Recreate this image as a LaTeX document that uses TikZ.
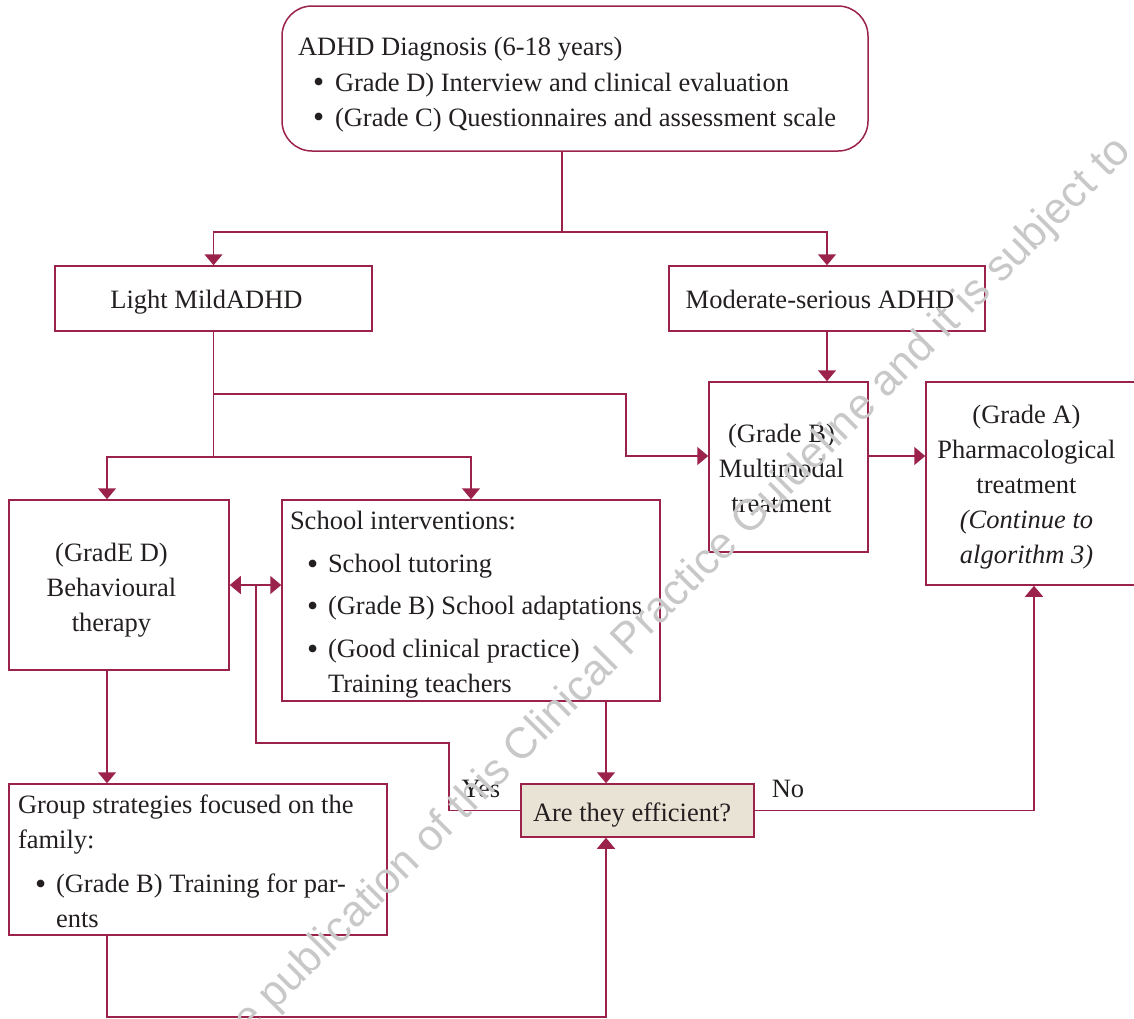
\documentclass[tikz,border=0pt]{standalone}
\usepackage{fontspec}
\usepackage{graphicx}
\setmainfont{Liberation Serif}
\newfontfamily\wmfont{Liberation Sans}
\usetikzlibrary{arrows.meta}
\definecolor{frame}{RGB}{155,35,75}
\definecolor{ink}{RGB}{35,31,32}
\definecolor{qfill}{RGB}{232,227,212}
\definecolor{wm}{RGB}{200,200,200}
\newcommand\bigbul{\raisebox{-1.8pt}{\scalebox{1.2}{\textbullet}}}
\newcommand\mybulA{\hspace*{15pt}\makebox[22pt][l]{\bigbul}}
\newcommand\mybulB{\hspace*{17pt}\makebox[21pt][l]{\bigbul}}
% shift text block: #1 dx, #2 dy (down), #3 content
\newcommand\tsh[3]{\raisebox{-#2pt}[\height][\depth]{\hspace*{#1pt}#3\hspace*{-#1pt}}}
\newcommand\ctab[1]{\begin{tabular}{@{}c@{}}#1\end{tabular}}
\newcommand\ltab[2]{\makebox[#1pt][l]{\begin{tabular}{@{}l@{}}#2\end{tabular}}}
\begin{document}
\begin{tikzpicture}[x=1pt,y=-1pt,
  every node/.style={font=\fontsize{26.5}{35}\selectfont, text=ink},
  box/.style={draw=frame, line width=1.5pt, inner sep=0pt},
  conn/.style={draw=frame, line width=1.5pt},
  arr/.style={conn, -{Triangle[width=18pt,length=11pt]}},
  darr/.style={conn, {Triangle[width=18pt,length=11pt]}-{Triangle[width=18pt,length=11pt]}},
]
\useasboundingbox (0,0) rectangle (1134,1018);
\begin{scope}
\clip (0,0) rectangle (1134,1018);
% boxes
\node[box, rounded corners=30pt, minimum width=586pt, minimum height=145pt] (diag) at (575,78.5)
  {\tsh{0}{5}{\ltab{554}{ADHD Diagnosis (6-18 years)\\[1pt] \mybulA Grade D) Interview and clinical evaluation\\ \mybulA (Grade C) Questionnaires and assessment scale}}};
\node[box, minimum width=317pt, minimum height=65pt] (light) at (213.5,298.5) {\tsh{-7}{2.6}{\ctab{Light MildADHD}}};
\node[box, minimum width=316pt, minimum height=65pt] (mod) at (827,298.5) {\tsh{-7}{2.6}{\ctab{Moderate-serious ADHD}}};
\node[box, minimum width=159pt, minimum height=170pt] (multi) at (788.5,467) {\tsh{-7}{3.2}{\ctab{(Grade B)\\Multimodal\\treatment}}};
\node[box, minimum width=210pt, minimum height=203pt] (pharma) at (1031,483.5)
  {\tsh{-4.5}{2.5}{\ctab{(Grade A)\\Pharmacological\\treatment\\\textit{(Continue to}\\\textit{algorithm 3)}}}};
\node[box, minimum width=220pt, minimum height=170pt] (behav) at (119,585) {\tsh{-7.5}{4.3}{\ctab{(GradE D)\\Behavioural\\therapy}}};
\node[box, minimum width=378pt, minimum height=201pt] (school) at (471,600.5)
  {\tsh{0}{3.3}{\ltab{362}{School interventions:\\[8pt] \mybulB School tutoring\\[7pt] \mybulB (Grade B) School adaptations\\[8pt] \mybulB (Good clinical practice)\\ \hspace*{38pt}Training teachers}}};
\node[box, fill=qfill, minimum width=233pt, minimum height=53pt] (eff) at (637.5,810.5) {\tsh{0}{3.9}{\ltab{209}{Are they efficient?}}};
\node[box, minimum width=378pt, minimum height=151pt] (group) at (198,859.5)
  {\tsh{0}{3.8}{\ltab{360}{Group strategies focused on the\\ family:\\[9pt] \mybulB (Grade B) Training for par-\\ \hspace*{38pt}ents}}};
\node (yes) at (481,789) {Yes};
\node (no) at (788,789) {No};
% connectors
\coordinate (j1) at (562,232);
\draw[conn] (diag.south -| j1) -- (j1);
\draw[arr] (j1) -| (light.north);
\draw[arr] (j1) -| (mod.north);
\coordinate (j2) at (213.5,394);
\coordinate (j3) at (213.5,457);
\coordinate (j4) at (626,456);
\coordinate (bx) at (107,0);
\coordinate (sx) at (606,0);
\coordinate (px) at (1034,0);
\draw[conn] (light.south) -- (j3);
\draw[arr] (j2) -| (j4) -- (multi.west |- j4);
\draw[arr] (j3) -| (behav.north -| bx);
\draw[arr] (j3) -| (school.north);
\draw[arr] (mod.south) -- (mod.south |- multi.north);
\draw[arr] (multi.east |- j4) -- (pharma.west |- j4);
\draw[darr] (behav.east) -- (behav.east -| school.west);
\coordinate (j5) at (256,585);
\coordinate (j6) at (449,743);
\draw[conn] (j5) |- (j6) |- (eff.west);
\draw[arr] (school.south -| sx) -- (eff.north -| sx);
\draw[arr] (eff.east) -| (pharma.south -| px);
\draw[arr] (behav.south -| bx) -- (group.north -| bx);
\coordinate (j7) at (107,1017);
\draw[arr] (group.south -| bx) -- (j7) -| (eff.south -| sx);
% watermark
\node[rotate=45, anchor=base west, font=\wmfont\fontsize{43.5}{44}\selectfont, text=wm, inner sep=0pt] (wmark) at (249,1037)
  {e publication of this Clinical Practice Guideline and it is subject to};
\end{scope}
\end{tikzpicture}
\end{document}
